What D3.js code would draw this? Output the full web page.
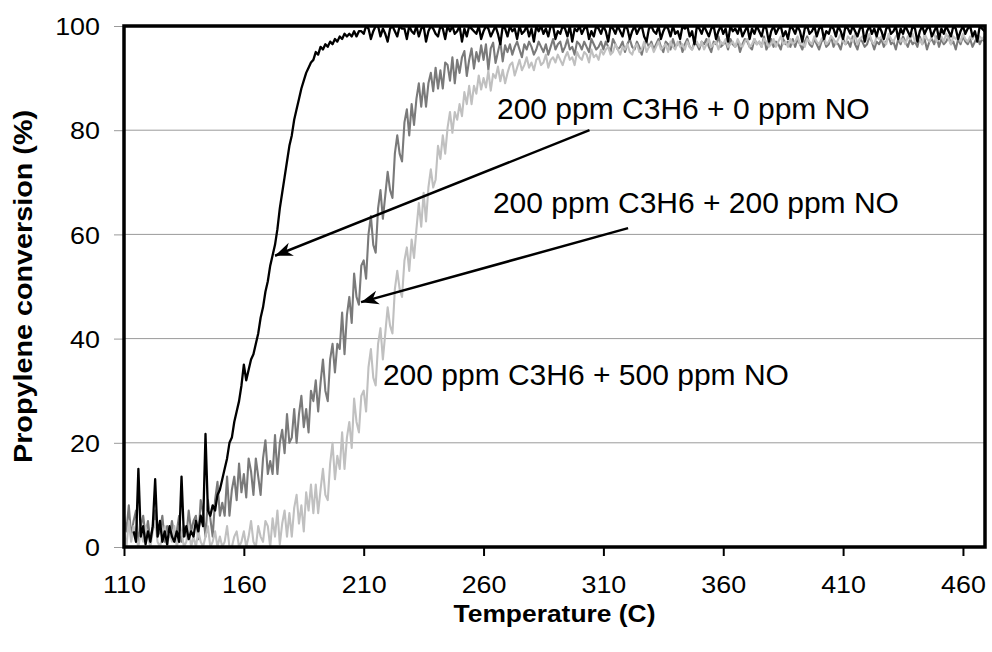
<!DOCTYPE html>
<html>
<head>
<meta charset="utf-8">
<script src="https://cdn.jsdelivr.net/npm/d3@7"></script>
<style>
  html, body { margin: 0; padding: 0; background: #fff; }
  svg { display: block; font-family: "Liberation Sans", Arial, sans-serif; }
</style>
</head>
<body>
<svg id="chart" width="992" height="652"></svg>
<script>
// Propylene light-off curves, sampled every 1 °C.
const tempStep = 1;

// 200 ppm C3H6 + 0 ppm NO (starts at 114 °C)
const startNo0 = 114;
const conv0NO = [
  3,1,15,2,4,0.5,3,1,4,13,2,5,1,3,0.5,4,2,1,3,1,13.5,2,4,1.5,3,2,5,3,6,4,21.7,7,
  6,8,7,10,11,13,15,17,20,21,
  24,26,28,31,35,32,34,36,37,39,
  41,44,46,49,51,54,56,58,61,65,
  68,71,74,77,79,82,84,86,88,89.5,
  91,92,93,93.5,95,94.5,96,95.5,96.5,96,
  97,96.5,97.5,97,98,97.5,98.5,98,98.5,98,
  99,98,99,
  99,98.5,100,99.5,97.5,99,100,100,98,99.5,98.5,97,99.5,100,99,98,100,99.5,99.5,97.5,
  100,99,98.5,100,98,99.5,100,97,99,100,99.5,98.5,98,100,99.5,97.5,100,99,100,98.5,
  99,100,97,99.5,98,100,99.5,99,98.5,100,97.5,99,100,99.5,98,99,100,98.5,96.5,100,
  99.5,98,100,99,99.5,97.5,100,98.5,99,100,98,99.5,97,100,99,100,98.5,99.5,98,100,
  100,97.5,99,98.5,100,99.5,98,100,97,99.5,99,100,98.5,99.5,100,97.5,99,98,100,99.5,
  98.5,100,99,97,100,99.5,98.5,100,99,98,100,99.5,97.5,99,100,98.5,99.5,100,98,97,
  99.5,100,99,98.5,100,97.5,99,100,99.5,98,100,98.5,99,97.5,100,99.5,100,98,99,96.5,
  100,99.5,98.5,100,99,98,99.5,100,97.5,99,100,98.5,99.5,97,100,99,99.5,98.5,100,98,
  99,100,97.5,99.5,98.5,100,99,98,100,99.5,97,99,100,98.5,99.5,100,98,99,97.5,100,
  99.5,98.5,100,99,97,99.5,100,98.5,99,100,98,99.5,100,97.5,99,98.5,100,99.5,98,100,
  99,97.5,100,99.5,98.5,100,99,98,99.5,100,97,99,100,98.5,99.5,98,100,99,97.5,99.5,
  100,98.5,99,100,97.5,99.5,98.5,100,99,98,100,99.5,97,99,100,98.5,99.5,100,98,99,
  100,97.5,99.5,98.5,100,99,98,100,99.5,97.5,99,100,98.5,99.5,100,98,99,97,100,99.5,
  99
];

// 200 ppm C3H6 + 200 ppm NO (starts at 110 °C)
const startNo200 = 110;
const conv200NO = [
  6,3,8,2,5,7,1,4,6,2,
  5,1,4,7,2,3,6,1,4,2,
  5,2,3,6,1,4,2,7,3,5,
  6,1.5,9,6.5,2,9,5.5,2,9,12.5,
  6,8.5,6,13.5,6,11,13.5,9,16,10.5,
  14,9.5,17,14.5,10,17,13.5,10,17,20.5,
  14,16.5,14,21.5,14,20,22.5,18,25.5,20,
  21,26.5,20,25.5,29,23,26.5,22,30,28,
  32,26,31.5,36,30,28,36,39,33.5,39,
  38,45,37,44.5,48,43,52.5,48,46.5,54,
  55,51.5,60,63.5,58,56.5,65,68.5,63,67.5,
  72,68.5,67,75.5,79,75.5,74,81.5,84,79,
  85,81,86,89,84.5,89,84.5,89,91,87.5,
  92,88,91.5,88,93,92.5,89.5,94,89,93.5,
  91,94,95.2,90.4,93.5,95.7,91.8,95,93.2,96.3,
  93.5,96.5,91.6,95.7,96.8,92.9,95,97,93.2,96.3,
  95,96.5,94.5,96,97,95.5,94,96.5,95.5,97,96,94.5,95.5,97,96,95,96.5,94.5,96,97.5,
  95.5,96.5,97,95,96,97.5,95.5,96,94.5,97,96.5,95.5,97,96,95,97.5,96.5,95.5,96,97,
  95.5,97,96,95,97.5,96.5,95.5,96,97,95,96.5,97.5,96,95.5,97,96,94.5,96.5,97,96,
  97,95.5,96.5,97.5,96,95,97,96.5,95.5,97.5,96,96.5,97,95,96.5,97.5,96,95.5,97,96.5,
  95.5,97,96.5,97.5,96,95,97,96.5,98,96,96.5,97,95.5,97.5,96.5,96,97,95,96.5,97.5,
  97,96,95.5,97.5,96.5,97,96,98,95.5,96.5,97.5,96,97,96.5,95.5,97.5,96.5,97,96,97.5,
  96,97.5,96.5,95.5,97,98,96.5,96,97.5,96.5,95.5,97,97.5,96,96.5,98,96,97,96.5,95.5,
  97.5,96.5,97,96,98,96.5,95.5,97.5,97,96,96.5,98,97,95.5,97,96.5,97.5,96,97,98,
  96.5,97,95.5,97.5,96.5,98,97,96,97.5,96.5,97,96,98,96.5,97.5,95.5,97,97.5,96.5,98,
  96,97.5,96.5,97,98,96.5,97,95.5,97.5,96.5,98,97,96.5,97.5,96,97,98,96.5,97.5,97
];

// 200 ppm C3H6 + 500 ppm NO (starts at 110 °C)
const startNo500 = 110;
const conv500NO = [
  3,0,5,1,4,2,0,3,1,4,
  2,0,3,5,1,0,2,4,0,3,
  1,4,0,2,3,0,1,4,0,2,
  0,3,1,0,2,4,0,1,3,0,
  2,0,1,4,0,0,2,3,0,1,
  3,0,2,5,1,0,4,2,1,5,
  4,0,5.5,2,7,0.5,4.5,7,2,6.5,
  2,7.5,10,4.5,8,3,10.5,7,12,6.5,
  12,6.5,11,15,10,9,16,20,13,17.5,
  15,22,15,21,24,19,28.5,24,22,29,
  30,26,34.5,38,32.5,31,39,42,36,41,
  46,42.5,41,49.5,53,49.5,48,55,57.5,53,
  59,55.5,61,66,61.5,68,62.5,69,72.5,69,
  70.5,77,74.5,79,75.5,80.5,83.5,79.5,83.5,82,
  85,82.7,87.3,85,88.5,85,88.5,87,90.5,87.8,
  90,88.2,91.4,87.6,90.8,90,92.2,89.4,91.6,89,
  91,92.5,93,90.5,92,93.5,91.5,92.5,94,92,93,91.5,93.5,94,92.5,93,94.5,92,93.5,94,
  93,94.5,93.5,92.5,94,95,93.5,94,92.5,95,94,93.5,95,94.5,93,95.5,94,94.5,93.5,95.5,
  94.5,95.5,96,94.5,95,96.5,95.5,94.5,96,95.5,96.5,95,94.5,96,96.5,95,95.5,97,95,96,
  96.5,95,96,97,95.5,96,96.5,95,97,96,95.5,97,96,96.5,95.5,97,96,95.5,96.5,97,
  96,97,95.5,96.5,97.5,96,96.5,97,95.5,97,96.5,97.5,96,96.5,97,96,97.5,96.5,96,97,
  97.5,96,96.5,97.5,96.5,97,96,97.5,97,96,96.5,97.5,96,97,98,96.5,97,96,97.5,96.5,
  97,98,96.5,97,96,97.5,97,96.5,98,97,
  96.5,97.5,98,96.5,97,98,97.5,96.5,97.5,98.5,97,96.5,98,97.5,97,98.5,96.5,97.5,98,97,
  97.5,98.5,97,96.5,98,97.5,98,97,96.5,98.5,97.5,97,98,98.5,97,97.5,96.5,98,97.5,98.5,
  97,98,97.5,96.5,98.5,97.5,97,98,98.5,97,97.5,98,97,98.5,97.5,96.5,98,97.5,98,97,
  98.5,97.5,97,98,97.5,98.5,97,98,97.5,98
];

const xTicks = [110, 160, 210, 260, 310, 360, 410, 460];
const yTicks = [0, 20, 40, 60, 80, 100];
const xDomain = [110, 469.2];
const yDomain = [0, 100];

const seriesNames = ["200 ppm C3H6 + 200 ppm NO", "200 ppm C3H6 + 500 ppm NO", "200 ppm C3H6 + 0 ppm NO"];
const seriesColors = ["#7a7a7a", "#c0c0c0", "#000000"];

// callout labels: text anchor (temp, conversion) and arrow from -> to
const callouts = [
  { text: "200 ppm C3H6 + 0 ppm NO",   at: [265.6, 82.1], from: [304.2, 80.0], to: [173.0, 55.9] },
  { text: "200 ppm C3H6 + 200 ppm NO", at: [263.9, 64.1], from: [320.3, 61.2], to: [208.9, 47.0] },
  { text: "200 ppm C3H6 + 500 ppm NO", at: [218.0, 31.1] }
];

const margin = { left: 124, right: 7, top: 26, bottom: 105 };
const W = 992, H = 652;
const svg = d3.select("#chart");

const x = d3.scaleLinear().domain(xDomain).range([margin.left, W - margin.right]);
const y = d3.scaleLinear().domain(yDomain).range([H - margin.bottom, margin.top]);

function toPoints(start, vals) {
  return vals.map((v, i) => [start + i * tempStep, v]);
}
const series = [
  toPoints(startNo200, conv200NO),
  toPoints(startNo500, conv500NO),
  toPoints(startNo0, conv0NO)
];

svg.append("defs").append("clipPath").attr("id", "plotClip")
  .append("rect")
  .attr("x", x(xDomain[0])).attr("y", y(yDomain[1]))
  .attr("width", x(xDomain[1]) - x(xDomain[0]))
  .attr("height", y(yDomain[0]) - y(yDomain[1]));

// horizontal gridlines
svg.append("g")
  .selectAll("line")
  .data(yTicks.filter(t => t > 0 && t < 100))
  .join("line")
  .attr("x1", x(xDomain[0])).attr("x2", x(xDomain[1]))
  .attr("y1", d => y(d)).attr("y2", d => y(d))
  .attr("stroke", "#9a9a9a").attr("stroke-width", 1);

// curves
const line = d3.line().x(d => x(d[0])).y(d => y(d[1]));
svg.append("g").attr("clip-path", "url(#plotClip)")
  .selectAll("path")
  .data(series)
  .join("path")
  .attr("d", line)
  .attr("fill", "none")
  .attr("stroke", (d, i) => seriesColors[i])
  .attr("stroke-width", (d, i) => i === 2 ? 2.3 : 2.1)
  .attr("stroke-linejoin", "round");

// y axis ticks + labels
const yAxis = svg.append("g").attr("transform", `translate(${x(xDomain[0])},0)`)
  .call(d3.axisLeft(y).tickValues(yTicks).tickSize(10).tickPadding(0).tickFormat(d3.format("d")));
yAxis.select(".domain").remove();
yAxis.selectAll(".tick line").attr("stroke", "#9a9a9a");
yAxis.selectAll(".tick text").remove();
yAxis.selectAll(".tick").append("g")
  .attr("transform", "translate(-24,0) scale(1.12,1)")
  .append("text")
  .attr("text-anchor", "end").attr("dy", "0.36em")
  .attr("font-size", 24).attr("fill", "#000")
  .text(d => d);

// x axis ticks + labels
const xAxis = svg.append("g").attr("transform", `translate(0,${y(yDomain[0])})`)
  .call(d3.axisBottom(x).tickValues(xTicks).tickSize(9).tickPadding(0).tickFormat(d3.format("d")));
xAxis.select(".domain").remove();
xAxis.selectAll(".tick line").attr("stroke", "#000").attr("stroke-width", 2);
xAxis.selectAll(".tick text").remove();
xAxis.selectAll(".tick").append("g")
  .attr("transform", "translate(0,46) scale(1.12,1)")
  .append("text")
  .attr("text-anchor", "middle")
  .attr("font-size", 24).attr("fill", "#000")
  .text(d => d);

// plot frame
svg.append("rect")
  .attr("x", x(xDomain[0])).attr("y", y(yDomain[1]))
  .attr("width", x(xDomain[1]) - x(xDomain[0]))
  .attr("height", y(yDomain[0]) - y(yDomain[1]))
  .attr("fill", "none").attr("stroke", "#000").attr("stroke-width", 3.5);

// axis titles
svg.append("g").attr("transform", `translate(${(x(xDomain[0]) + x(xDomain[1])) / 2},622) scale(1.1,1)`)
  .append("text").attr("text-anchor", "middle")
  .attr("font-size", 24).attr("font-weight", "bold").text("Temperature (C)");

svg.append("g").attr("transform", `translate(32,${(y(0) + y(100)) / 2}) rotate(-90) scale(1.15,1)`)
  .append("text").attr("text-anchor", "middle")
  .attr("font-size", 25).attr("font-weight", "bold").text("Propylene conversion (%)");

// callouts
svg.append("defs").append("marker")
  .attr("id", "arrowHead").attr("viewBox", "0 0 10 10")
  .attr("refX", 10).attr("refY", 5)
  .attr("markerWidth", 7).attr("markerHeight", 7)
  .attr("markerUnits", "strokeWidth")
  .attr("orient", "auto")
  .append("path").attr("d", "M0,1 L10,5 L0,9 L3,5 Z").attr("fill", "#000");

const cg = svg.append("g");
callouts.forEach(c => {
  cg.append("text")
    .attr("x", x(c.at[0])).attr("y", y(c.at[1]))
    .attr("font-size", 30).attr("fill", "#000")
    .text(c.text);
  if (c.from) {
    cg.append("line")
      .attr("x1", x(c.from[0])).attr("y1", y(c.from[1]))
      .attr("x2", x(c.to[0])).attr("y2", y(c.to[1]))
      .attr("stroke", "#000").attr("stroke-width", 2.5)
      .attr("marker-end", "url(#arrowHead)");
  }
});
</script>
</body>
</html>
